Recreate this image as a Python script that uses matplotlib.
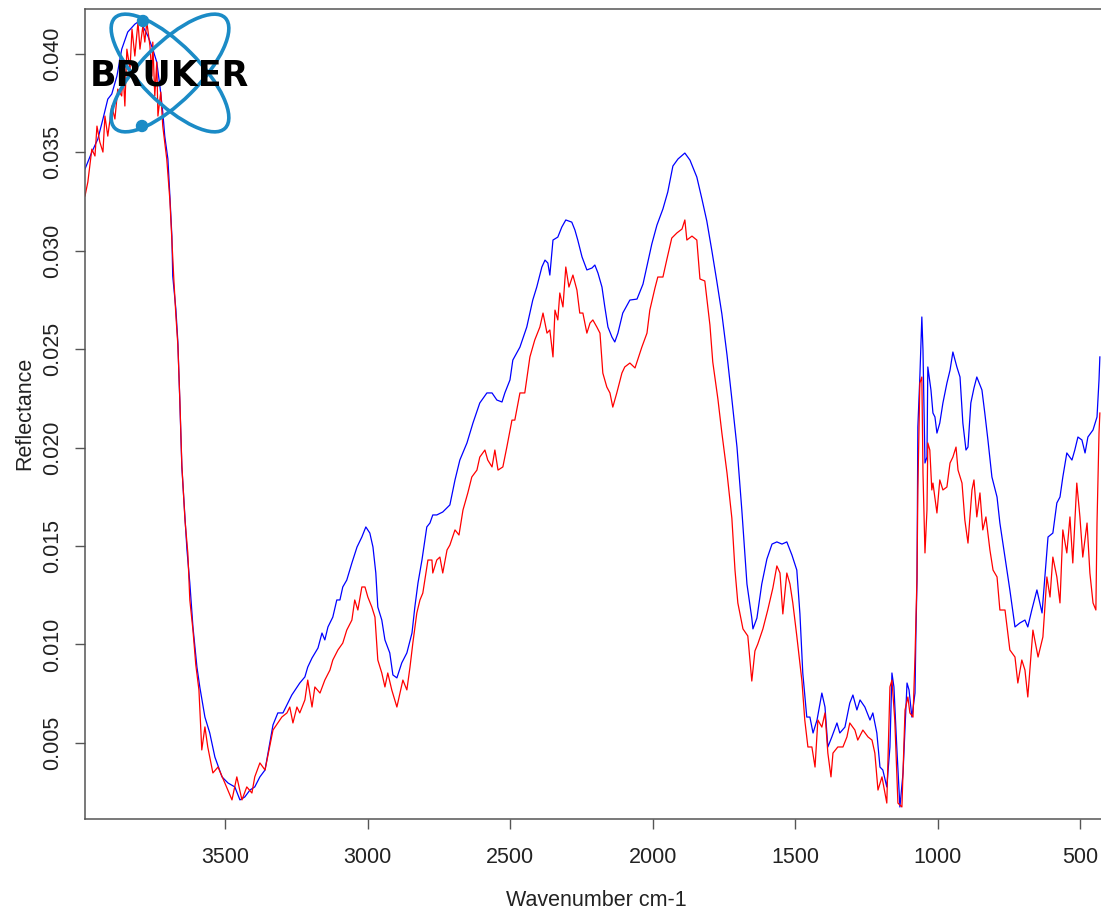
import matplotlib
matplotlib.use("Agg")
import matplotlib.pyplot as plt
from matplotlib.patches import Ellipse, Circle

# Reflectance spectra, read left to right (high to low wavenumber)
blue_wn = [3993, 3969, 3948, 3930, 3913, 3899, 3881, 3864, 3843, 3818, 3807, 3790, 3772, 3755, 3741, 3730,
           3720, 3713, 3702, 3695, 3688, 3685, 3674, 3667, 3660, 3653, 3642, 3635, 3625, 3614, 3600, 3590,
           3572, 3555, 3537, 3512, 3491, 3467, 3449, 3432, 3414, 3397, 3379, 3361, 3333, 3316, 3298, 3267,
           3239, 3221, 3211, 3196, 3175, 3161, 3151, 3140, 3123, 3109, 3098, 3088, 3074, 3056, 3038, 3021,
           3007, 2993, 2982, 2972, 2965, 2951, 2940, 2923, 2912, 2898, 2881, 2863, 2845, 2835, 2824, 2810,
           2793, 2782, 2772, 2758, 2737, 2712, 2694, 2677, 2652, 2631, 2607, 2582, 2564, 2547, 2529, 2519,
           2501, 2491, 2466, 2442, 2421, 2407, 2389, 2378, 2368, 2361, 2350, 2333, 2319, 2305, 2284, 2273,
           2263, 2248, 2231, 2213, 2203, 2192, 2178, 2168, 2157, 2143, 2133, 2122, 2105, 2080, 2055, 2034,
           2020, 2003, 1985, 1964, 1947, 1929, 1911, 1887, 1869, 1845, 1827, 1810, 1792, 1775, 1757, 1739,
           1722, 1704, 1687, 1669, 1652, 1648, 1634, 1617, 1599, 1581, 1564, 1546, 1529, 1511, 1494, 1483,
           1473, 1459, 1448, 1437, 1423, 1406, 1395, 1385, 1371, 1353, 1343, 1325, 1308, 1297, 1283, 1272,
           1255, 1237, 1227, 1213, 1202, 1192, 1178, 1167, 1160, 1153, 1143, 1132, 1121, 1107, 1100, 1090,
           1079, 1076, 1072, 1069, 1062, 1055, 1051, 1044, 1037, 1034, 1023, 1016, 1009, 1002, 992, 981,
           967, 956, 946, 932, 921, 911, 900, 893, 883, 872, 862, 844, 834, 823, 809, 791,
           781, 763, 746, 728, 711, 693, 683, 669, 651, 633, 623, 612, 595, 581, 570, 560,
           546, 528, 518, 507, 493, 482, 472, 454, 440, 433, 430]
blue_refl = [0.03416, 0.03502, 0.03568, 0.03670, 0.03771, 0.03797, 0.03888, 0.04025, 0.04112, 0.04152, 0.04163,
             0.04142, 0.04091, 0.04025, 0.03959, 0.03837, 0.03705, 0.03583, 0.03467, 0.03279, 0.03075, 0.02872,
             0.02704, 0.02537, 0.02232, 0.01902, 0.01648, 0.01480, 0.01312, 0.01089, 0.00885, 0.00784, 0.00631,
             0.00550, 0.00428, 0.00327, 0.00296, 0.00276, 0.00210, 0.00225, 0.00260, 0.00276, 0.00327, 0.00362,
             0.00591, 0.00652, 0.00652, 0.00743, 0.00804, 0.00835, 0.00885, 0.00931, 0.00982, 0.01058, 0.01023,
             0.01089, 0.01139, 0.01226, 0.01226, 0.01292, 0.01327, 0.01414, 0.01495, 0.01546, 0.01597, 0.01566,
             0.01495, 0.01363, 0.01190, 0.01124, 0.01023, 0.00957, 0.00845, 0.00830, 0.00906, 0.00957, 0.01058,
             0.01190, 0.01312, 0.01429, 0.01597, 0.01617, 0.01658, 0.01658, 0.01673, 0.01709, 0.01836, 0.01937,
             0.02024, 0.02125, 0.02227, 0.02278, 0.02278, 0.02242, 0.02232, 0.02278, 0.02344, 0.02445, 0.02511,
             0.02613, 0.02750, 0.02816, 0.02918, 0.02953, 0.02938, 0.02877, 0.03055, 0.03070, 0.03121, 0.03157,
             0.03146, 0.03106, 0.03055, 0.02969, 0.02903, 0.02913, 0.02928, 0.02887, 0.02816, 0.02715, 0.02613,
             0.02562, 0.02537, 0.02582, 0.02684, 0.02750, 0.02755, 0.02831, 0.02923, 0.03035, 0.03131, 0.03213,
             0.03299, 0.03431, 0.03467, 0.03497, 0.03461, 0.03375, 0.03263, 0.03152, 0.02999, 0.02847, 0.02679,
             0.02471, 0.02247, 0.02003, 0.01683, 0.01307, 0.01134, 0.01079, 0.01134, 0.01307, 0.01434, 0.01510,
             0.01521, 0.01510, 0.01521, 0.01454, 0.01378, 0.01155, 0.00855, 0.00631, 0.00631, 0.00550, 0.00616,
             0.00753, 0.00682, 0.00479, 0.00530, 0.00601, 0.00550, 0.00580, 0.00702, 0.00743, 0.00667, 0.00718,
             0.00682, 0.00616, 0.00652, 0.00550, 0.00377, 0.00362, 0.00276, 0.00479, 0.00855, 0.00784, 0.00479,
             0.00174, 0.00347, 0.00804, 0.00769, 0.00631, 0.00753, 0.01038, 0.01327, 0.02105, 0.02359, 0.02664,
             0.02496, 0.01922, 0.01952, 0.02410, 0.02293, 0.02176, 0.02156, 0.02074, 0.02125, 0.02227, 0.02328,
             0.02394, 0.02486, 0.02410, 0.02359, 0.02125, 0.01988, 0.02003, 0.02227, 0.02303, 0.02359, 0.02293,
             0.02176, 0.02039, 0.01851, 0.01749, 0.01617, 0.01444, 0.01277, 0.01089, 0.01109, 0.01124, 0.01089,
             0.01175, 0.01277, 0.01160, 0.01343, 0.01546, 0.01566, 0.01719, 0.01749, 0.01851, 0.01973, 0.01937,
             0.01988, 0.02054, 0.02039, 0.01973, 0.02054, 0.02090, 0.02156, 0.02344, 0.02461]

red_wn = [3993, 3983, 3969, 3958, 3951, 3941, 3930, 3923, 3913, 3899, 3888, 3878, 3864, 3860, 3853, 3846,
          3835, 3828, 3818, 3807, 3800, 3790, 3783, 3776, 3765, 3758, 3755, 3748, 3741, 3737, 3727, 3720,
          3706, 3695, 3688, 3681, 3674, 3667, 3660, 3653, 3642, 3632, 3625, 3614, 3604, 3593, 3583, 3572,
          3562, 3544, 3526, 3502, 3477, 3460, 3442, 3425, 3407, 3397, 3379, 3361, 3333, 3316, 3302, 3284,
          3274, 3263, 3249, 3239, 3221, 3211, 3196, 3186, 3168, 3151, 3133, 3123, 3105, 3088, 3074, 3056,
          3046, 3035, 3021, 3010, 3000, 2986, 2975, 2965, 2951, 2940, 2930, 2916, 2898, 2887, 2877, 2863,
          2852, 2842, 2828, 2817, 2807, 2789, 2775, 2772, 2758, 2747, 2737, 2722, 2712, 2694, 2680, 2666,
          2649, 2635, 2617, 2607, 2589, 2579, 2564, 2554, 2543, 2526, 2512, 2494, 2484, 2466, 2449, 2431,
          2414, 2396, 2385, 2371, 2361, 2350, 2343, 2333, 2326, 2315, 2305, 2294, 2280, 2266, 2256, 2245,
          2231, 2220, 2210, 2196, 2185, 2175, 2161, 2150, 2140, 2126, 2108, 2098, 2080, 2062, 2038, 2020,
          2010, 1992, 1982, 1964, 1950, 1933, 1915, 1897, 1887, 1880, 1862, 1845, 1834, 1817, 1799, 1789,
          1771, 1757, 1739, 1722, 1711, 1701, 1683, 1666, 1652, 1641, 1631, 1613, 1596, 1578, 1564, 1553,
          1543, 1529, 1518, 1508, 1494, 1476, 1466, 1455, 1441, 1430, 1420, 1406, 1395, 1385, 1374, 1367,
          1350, 1332, 1318, 1308, 1290, 1280, 1262, 1244, 1230, 1220, 1209, 1195, 1178, 1167, 1160, 1150,
          1139, 1125, 1114, 1104, 1097, 1086, 1079, 1072, 1069, 1062, 1055, 1051, 1044, 1037, 1034, 1027,
          1020, 1016, 1002, 992, 981, 967, 956, 946, 935, 928, 914, 904, 893, 879, 872, 862,
          851, 841, 830, 816, 805, 791, 781, 763, 746, 728, 718, 704, 693, 683, 665, 647,
          630, 616, 605, 595, 581, 570, 560, 546, 535, 525, 511, 500, 490, 475, 465, 454,
          444, 440, 433, 430]
red_refl = [0.03279, 0.03350, 0.03517, 0.03482, 0.03634, 0.03553, 0.03502, 0.03685, 0.03583, 0.03736, 0.03670,
            0.03822, 0.03787, 0.03924, 0.03736, 0.04025, 0.03924, 0.04127, 0.03990, 0.04163, 0.04025, 0.04142,
            0.04061, 0.04163, 0.04041, 0.03888, 0.04061, 0.03787, 0.03959, 0.03685, 0.03807, 0.03634, 0.03467,
            0.03258, 0.03055, 0.02852, 0.02674, 0.02521, 0.02242, 0.01912, 0.01632, 0.01465, 0.01226, 0.01073,
            0.00896, 0.00769, 0.00464, 0.00581, 0.00479, 0.00347, 0.00377, 0.00296, 0.00210, 0.00327, 0.00210,
            0.00276, 0.00245, 0.00327, 0.00398, 0.00362, 0.00565, 0.00601, 0.00631, 0.00652, 0.00682, 0.00601,
            0.00682, 0.00652, 0.00718, 0.00819, 0.00682, 0.00784, 0.00753, 0.00819, 0.00870, 0.00921, 0.00972,
            0.01007, 0.01073, 0.01124, 0.01226, 0.01175, 0.01292, 0.01292, 0.01241, 0.01190, 0.01139, 0.00921,
            0.00855, 0.00784, 0.00855, 0.00769, 0.00682, 0.00753, 0.00819, 0.00769, 0.00885, 0.01007, 0.01160,
            0.01226, 0.01261, 0.01429, 0.01429, 0.01363, 0.01429, 0.01444, 0.01363, 0.01480, 0.01505, 0.01582,
            0.01556, 0.01683, 0.01770, 0.01851, 0.01886, 0.01952, 0.01988, 0.01937, 0.01902, 0.01988, 0.01886,
            0.01902, 0.02003, 0.02140, 0.02140, 0.02278, 0.02278, 0.02461, 0.02547, 0.02613, 0.02684, 0.02582,
            0.02598, 0.02461, 0.02699, 0.02649, 0.02786, 0.02715, 0.02918, 0.02816, 0.02877, 0.02801, 0.02684,
            0.02684, 0.02582, 0.02633, 0.02649, 0.02613, 0.02582, 0.02379, 0.02308, 0.02278, 0.02206, 0.02278,
            0.02379, 0.02410, 0.02430, 0.02405, 0.02511, 0.02582, 0.02699, 0.02811, 0.02867, 0.02867, 0.02958,
            0.03065, 0.03091, 0.03111, 0.03157, 0.03055, 0.03075, 0.03055, 0.02857, 0.02847, 0.02623, 0.02435,
            0.02247, 0.02074, 0.01871, 0.01642, 0.01378, 0.01211, 0.01079, 0.01043, 0.00814, 0.00967, 0.01002,
            0.01079, 0.01175, 0.01287, 0.01399, 0.01363, 0.01155, 0.01363, 0.01307, 0.01211, 0.01043, 0.00814,
            0.00616, 0.00479, 0.00479, 0.00377, 0.00616, 0.00580, 0.00652, 0.00448, 0.00327, 0.00448, 0.00479,
            0.00479, 0.00530, 0.00601, 0.00565, 0.00514, 0.00565, 0.00530, 0.00514, 0.00448, 0.00260, 0.00327,
            0.00194, 0.00784, 0.00819, 0.00616, 0.00194, 0.00174, 0.00667, 0.00733, 0.00652, 0.00631, 0.00936,
            0.01343, 0.01785, 0.02328, 0.02359, 0.01871, 0.01465, 0.01683, 0.02024, 0.01988, 0.01785, 0.01820,
            0.01668, 0.01836, 0.01785, 0.01800, 0.01922, 0.01952, 0.02003, 0.01886, 0.01820, 0.01632, 0.01515,
            0.01785, 0.01836, 0.01648, 0.01770, 0.01582, 0.01648, 0.01480, 0.01378, 0.01343, 0.01175, 0.01175,
            0.00972, 0.00936, 0.00804, 0.00921, 0.00870, 0.00733, 0.01073, 0.00936, 0.01038, 0.01343, 0.01241,
            0.01444, 0.01343, 0.01211, 0.01582, 0.01465, 0.01648, 0.01414, 0.01820, 0.01648, 0.01444, 0.01617,
            0.01363, 0.01211, 0.01175, 0.01617, 0.02074, 0.02176]

x_ticks = [3500, 3000, 2500, 2000, 1500, 1000, 500]
y_ticks = [0.005, 0.010, 0.015, 0.020, 0.025, 0.030, 0.035, 0.040]
y_tick_labels = ["0.005", "0.010", "0.015", "0.020", "0.025", "0.030", "0.035", "0.040"]

W, H = 1101, 916
plt.rcParams['font.family'] = ['Liberation Sans', 'DejaVu Sans']
fig = plt.figure(figsize=(W / 100, H / 100), dpi=100)

ax = fig.add_axes([85 / W, 1 - 819 / H, (W - 85) / W, 810 / H])
ax.plot(blue_wn, blue_refl, color='#0000ff', lw=0.9)
ax.plot(red_wn, red_refl, color='#ff0000', lw=0.9)
ax.set_xlim(3993, 426)
ax.set_ylim(0.00113, 0.04229)

axis_grey = '#555555'
text_grey = '#222222'
for side in ['left', 'bottom', 'top']:
    ax.spines[side].set_color(axis_grey)
    ax.spines[side].set_linewidth(1.1)
ax.spines['right'].set_visible(False)

ax.set_xticks(x_ticks)
ax.set_xticklabels([str(t) for t in x_ticks])
ax.set_yticks(y_ticks)
ax.set_yticklabels(y_tick_labels, rotation=90, va='center')
ax.tick_params(direction='out', length=7.5, width=1.0, color=axis_grey,
               labelsize=15.5, labelcolor=text_grey)
ax.tick_params(axis='x', pad=13)
ax.tick_params(axis='y', pad=8.5)

ax.set_xlabel('Wavenumber cm-1', fontsize=15.5, color=text_grey, va='center')
ax.xaxis.set_label_coords((596 - 85) / 1016, (819 - 900) / 810)
ax.set_ylabel('Reflectance', fontsize=15.5, color=text_grey, va='center')
ax.yaxis.set_label_coords((25 - 85) / 1016, (819 - 413) / 810)

# logo drawn in pixel units on a transparent overlay
logo = fig.add_axes([85 / W, 1 - 140 / H, 175 / W, 130 / H])
logo.set_xlim(85, 260)
logo.set_ylim(140, 10)
logo.axis('off')
logo.patch.set_alpha(0)
orbit_blue = '#1b8bc6'
for ang in (45, -45):
    logo.add_patch(Ellipse((170, 73), 156, 58, angle=ang, fill=False,
                           edgecolor=orbit_blue, lw=2.6))
logo.add_patch(Circle((143, 21), 5.5, color=orbit_blue))
logo.add_patch(Circle((142, 126), 5.5, color=orbit_blue))
logo.text(169, 86, 'BRUKER', ha='center', va='baseline', fontsize=25,
          fontweight='bold', family='DejaVu Sans', color='black')

fig.savefig('out.png', dpi=100)
